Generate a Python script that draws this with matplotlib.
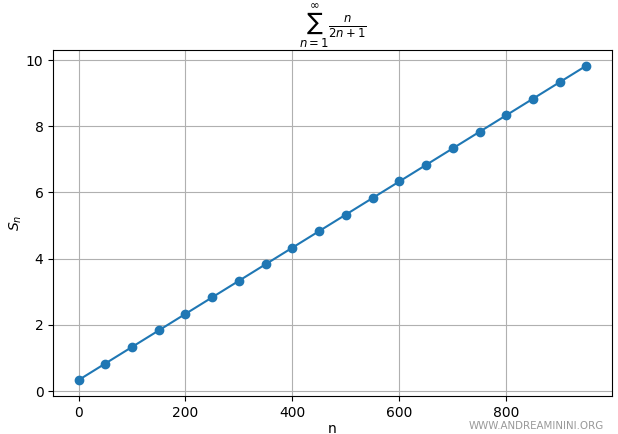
import matplotlib
matplotlib.use('Agg')
import matplotlib.pyplot as plt

n = [0, 50, 100, 150, 200, 250, 300, 350, 400, 450,
     500, 550, 600, 650, 700, 750, 800, 850, 900, 950]
s_n = [0.33, 0.83, 1.33, 1.83, 2.33, 2.83, 3.33, 3.83, 4.33, 4.83,
       5.33, 5.83, 6.33, 6.83, 7.33, 7.83, 8.33, 8.83, 9.33, 9.83]

fig, ax = plt.subplots(figsize=(6.18, 4.34), dpi=100)
fig.subplots_adjust(left=0.086, right=0.990, top=0.885, bottom=0.088)

ax.plot(n, s_n, marker='o')
ax.set_title(r'$\sum_{n=1}^{\infty} \frac{n}{2n+1}$')
ax.set_xlabel('n', labelpad=2)
ax.set_ylabel(r'$S_n$', labelpad=1)
ax.grid(True)

fig.text(0.978, 0.008, 'WWW.ANDREAMININI.ORG', color='#999999',
         ha='right', va='bottom', fontsize=7.4)

fig.savefig('out.png')
